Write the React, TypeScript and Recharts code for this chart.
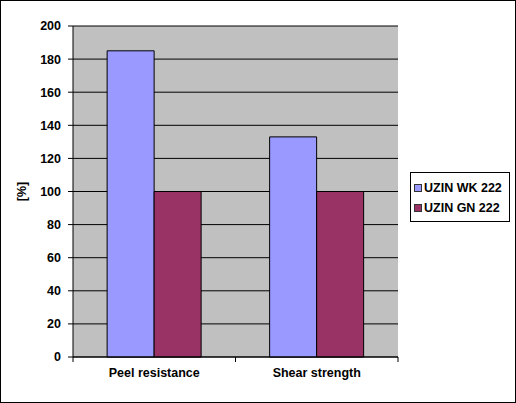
import React from "react";
import { BarChart, Bar, XAxis, YAxis, CartesianGrid, Legend } from "recharts";

const categories = ["Peel resistance", "Shear strength"];
const seriesNames = ["UZIN WK 222", "UZIN GN 222"];
const wkValues = [185, 133];
const gnValues = [100, 100];
const yTicks = [0, 20, 40, 60, 80, 100, 120, 140, 160, 180, 200];

const data = categories.map((name, i) => ({ name, wk: wkValues[i], gn: gnValues[i] }));

const FONT = "Arial, 'Liberation Sans', sans-serif";

// Excel puts the x tick marks between categories, not under them
const CategoryTick = (props: any) => {
  const { x, y, payload, index, visibleTicksCount } = props;
  const half = payload.offset ?? 0;
  const isLast = index === visibleTicksCount - 1;
  return (
    <g>
      <line x1={x - half} x2={x - half} y1={y - 5} y2={y} stroke="#000" />
      {isLast && <line x1={x + half} x2={x + half} y1={y - 5} y2={y} stroke="#000" />}
      <text x={x} y={y + 15} textAnchor="middle" fontFamily={FONT} fontWeight="bold" fontSize={12.5} fill="#000">
        {payload.value}
      </text>
    </g>
  );
};

const LegendBox = (props: any) => {
  const items = [...(props.payload || [])].sort(
    (a: any, b: any) => seriesNames.indexOf(a.value) - seriesNames.indexOf(b.value)
  );
  return (
    <div
      style={{
        border: "1px solid #000",
        background: "#fff",
        width: 100,
        height: 50,
        boxSizing: "border-box",
        padding: "5px 0 0 3px",
        fontFamily: FONT,
        fontWeight: "bold",
        fontSize: 12.5,
        color: "#000",
      }}
    >
      {items.map((it: any) => (
        <div key={it.value} style={{ display: "flex", alignItems: "center", height: 20 }}>
          <span
            style={{
              display: "inline-block",
              width: 6,
              height: 6,
              background: it.color,
              border: "1px solid #333",
              marginRight: 2,
            }}
          />
          <span>{it.value}</span>
        </div>
      ))}
    </div>
  );
};

export default function App() {
  return (
    <div
      style={{
        position: "absolute",
        left: 0,
        top: 0,
        width: 516,
        height: 403,
        boxSizing: "border-box",
        border: "1px solid #000",
        background: "#fff",
      }}
    >
      <BarChart
        width={514}
        height={401}
        data={data}
        margin={{ top: 25, right: 117, bottom: 15, left: 0 }}
        barGap={0}
        barCategoryGap="21%"
      >
        <CartesianGrid vertical={false} stroke="#000" fill="#c0c0c0" fillOpacity={1} />
        <XAxis
          dataKey="name"
          height={30}
          axisLine={{ stroke: "#000" }}
          tickLine={false}
          tickSize={5}
          tickMargin={0}
          interval={0}
          tick={<CategoryTick />}
        />
        <YAxis
          width={72}
          domain={[0, 200]}
          ticks={yTicks}
          interval={0}
          axisLine={{ stroke: "#000" }}
          tickLine={{ stroke: "#000" }}
          tickSize={5}
          tickMargin={7}
          tick={{ fill: "#000", fontFamily: FONT, fontWeight: "bold", fontSize: 12.5 }}
          label={{
            value: "[%]",
            angle: -90,
            position: "insideLeft",
            offset: 21,
            textAnchor: "middle",
            style: { fill: "#000", fontFamily: FONT, fontWeight: "bold", fontSize: 12.5, textAnchor: "middle" },
          }}
        />
        <YAxis
          yAxisId="frame"
          orientation="right"
          width={0}
          domain={[0, 200]}
          tick={false}
          tickLine={false}
          axisLine={{ stroke: "#808080" }}
        />
        <Legend
          layout="vertical"
          align="center"
          verticalAlign="middle"
          wrapperStyle={{ left: 409, top: 171, width: "auto" }}
          content={<LegendBox />}
        />
        <Bar dataKey="wk" name={seriesNames[0]} fill="#9999ff" stroke="#000" strokeWidth={1} isAnimationActive={false} />
        <Bar dataKey="gn" name={seriesNames[1]} fill="#993366" stroke="#000" strokeWidth={1} isAnimationActive={false} />
      </BarChart>
    </div>
  );
}
